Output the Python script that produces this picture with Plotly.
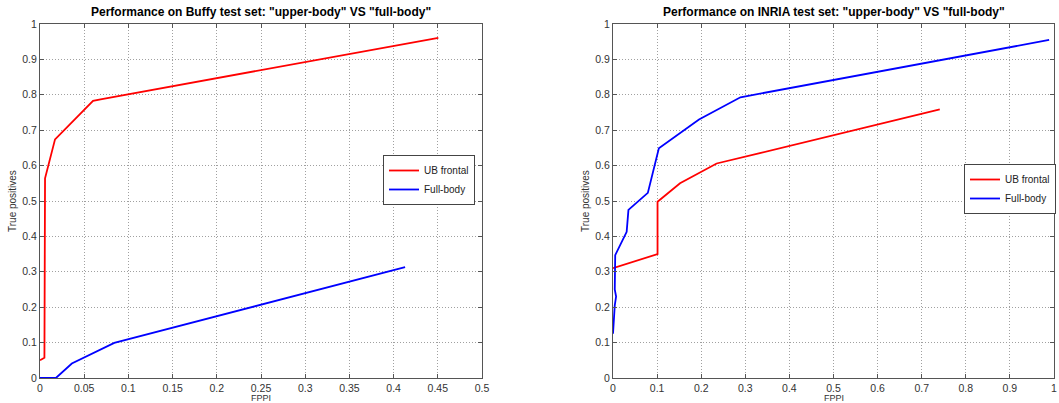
import plotly.graph_objects as go

# ---- Data: Buffy test set ----
buffy_ub_x = [0.0, 0.005, 0.0057, 0.017, 0.060, 0.070, 0.4506]
buffy_ub_y = [0.050, 0.057, 0.564, 0.674, 0.783, 0.788, 0.961]
buffy_fb_x = [0.0, 0.018, 0.036, 0.084, 0.413]
buffy_fb_y = [0.0, 0.0, 0.041, 0.099, 0.313]

# ---- Data: INRIA test set ----
inria_ub_x = [0.0, 0.101, 0.101, 0.152, 0.235, 0.333, 0.741]
inria_ub_y = [0.310, 0.350, 0.498, 0.550, 0.606, 0.635, 0.759]
inria_fb_x = [0.0, 0.002, 0.004, 0.007, 0.004, 0.005, 0.031, 0.035, 0.079, 0.104, 0.195, 0.289, 0.989]
inria_fb_y = [0.125, 0.19, 0.205, 0.23, 0.25, 0.347, 0.413, 0.475, 0.523, 0.649, 0.730, 0.793, 0.955]

series_names = ["UB frontal", "Full-body"]
titles = ['Performance on Buffy test set: "upper-body" VS "full-body"',
          'Performance on INRIA test set: "upper-body" VS "full-body"']
x_label = "FPPI"
y_label = "True positives"

RED = "#ff0000"
BLUE = "#0000ff"
FONT = "Liberation Sans, Arial, sans-serif"
W, H = 1059, 403

fig = go.Figure()
fig.add_trace(go.Scatter(x=buffy_ub_x, y=buffy_ub_y, mode="lines", name=series_names[0],
                         line=dict(color=RED, width=1.8), xaxis="x", yaxis="y", legend="legend"))
fig.add_trace(go.Scatter(x=buffy_fb_x, y=buffy_fb_y, mode="lines", name=series_names[1],
                         line=dict(color=BLUE, width=1.8), xaxis="x", yaxis="y", legend="legend"))
fig.add_trace(go.Scatter(x=inria_ub_x, y=inria_ub_y, mode="lines", name=series_names[0],
                         line=dict(color=RED, width=1.8), xaxis="x2", yaxis="y2", legend="legend2"))
fig.add_trace(go.Scatter(x=inria_fb_x, y=inria_fb_y, mode="lines", name=series_names[1],
                         line=dict(color=BLUE, width=1.8), xaxis="x2", yaxis="y2", legend="legend2"))

ydom = [1 - 378 / H, 1 - 24 / H]
xdom1 = [40 / W, 482 / W]
xdom2 = [613 / W, 1054 / W]

axis_common = dict(
    showline=True, linecolor="#555555", linewidth=1, mirror="ticks",
    ticks="inside", ticklen=4, tickcolor="#555555",
    showgrid=True, gridcolor="#a0a0a0", griddash="1px,2px", gridwidth=1,
    zeroline=False, tickfont=dict(family=FONT, size=10.5, color="#333333"),
    ticklabelstandoff=0,
)

legend_common = dict(xanchor="left", yanchor="top",
                     bgcolor="white", bordercolor="#444444", borderwidth=1,
                     font=dict(family=FONT, size=10, color="#222222"),
                     tracegroupgap=0, itemwidth=30)

fig.update_layout(
    width=W, height=H,
    margin=dict(l=0, r=0, t=0, b=0, autoexpand=False),
    paper_bgcolor="white", plot_bgcolor="white",
    font=dict(family=FONT, color="#222222"),
    xaxis=dict(domain=xdom1, range=[0, 0.5], dtick=0.05, tick0=0, anchor="y", **axis_common),
    yaxis=dict(domain=ydom, range=[0, 1], dtick=0.1, tick0=0, anchor="x", **axis_common),
    xaxis2=dict(domain=xdom2, range=[0, 1], dtick=0.1, tick0=0, anchor="y2", **axis_common),
    yaxis2=dict(domain=ydom, range=[0, 1], dtick=0.1, tick0=0, anchor="x2", **axis_common),
    legend=dict(x=383 / W, y=1 - 155 / H, **legend_common),
    legend2=dict(x=964 / W, y=1 - 164 / H, **legend_common),
    showlegend=True,
)

annots = []
for i, (xd, t) in enumerate([(xdom1, titles[0]), (xdom2, titles[1])]):
    cx = (xd[0] + xd[1]) / 2
    annots.append(dict(text="<b>" + t + "</b>", x=cx, y=1 - 12 / H, xref="paper", yref="paper",
                       xanchor="center", yanchor="middle", showarrow=False,
                       font=dict(family=FONT, size=12, color="#000000")))
    annots.append(dict(text=x_label, x=cx, y=1 - 398 / H, xref="paper", yref="paper",
                       xanchor="center", yanchor="middle", showarrow=False,
                       font=dict(family=FONT, size=9, color="#333333")))
    annots.append(dict(text=y_label, x=(xd[0] * W - 27) / W, y=(ydom[0] + ydom[1]) / 2,
                       xref="paper", yref="paper", xanchor="center", yanchor="middle",
                       textangle=-90, showarrow=False,
                       font=dict(family=FONT, size=10, color="#333333")))
fig.update_layout(annotations=annots)

fig.write_html(
    "out.html",
    config={"displayModeBar": False},
    post_script="document.body.style.margin='0';document.body.style.overflow='hidden';",
)
